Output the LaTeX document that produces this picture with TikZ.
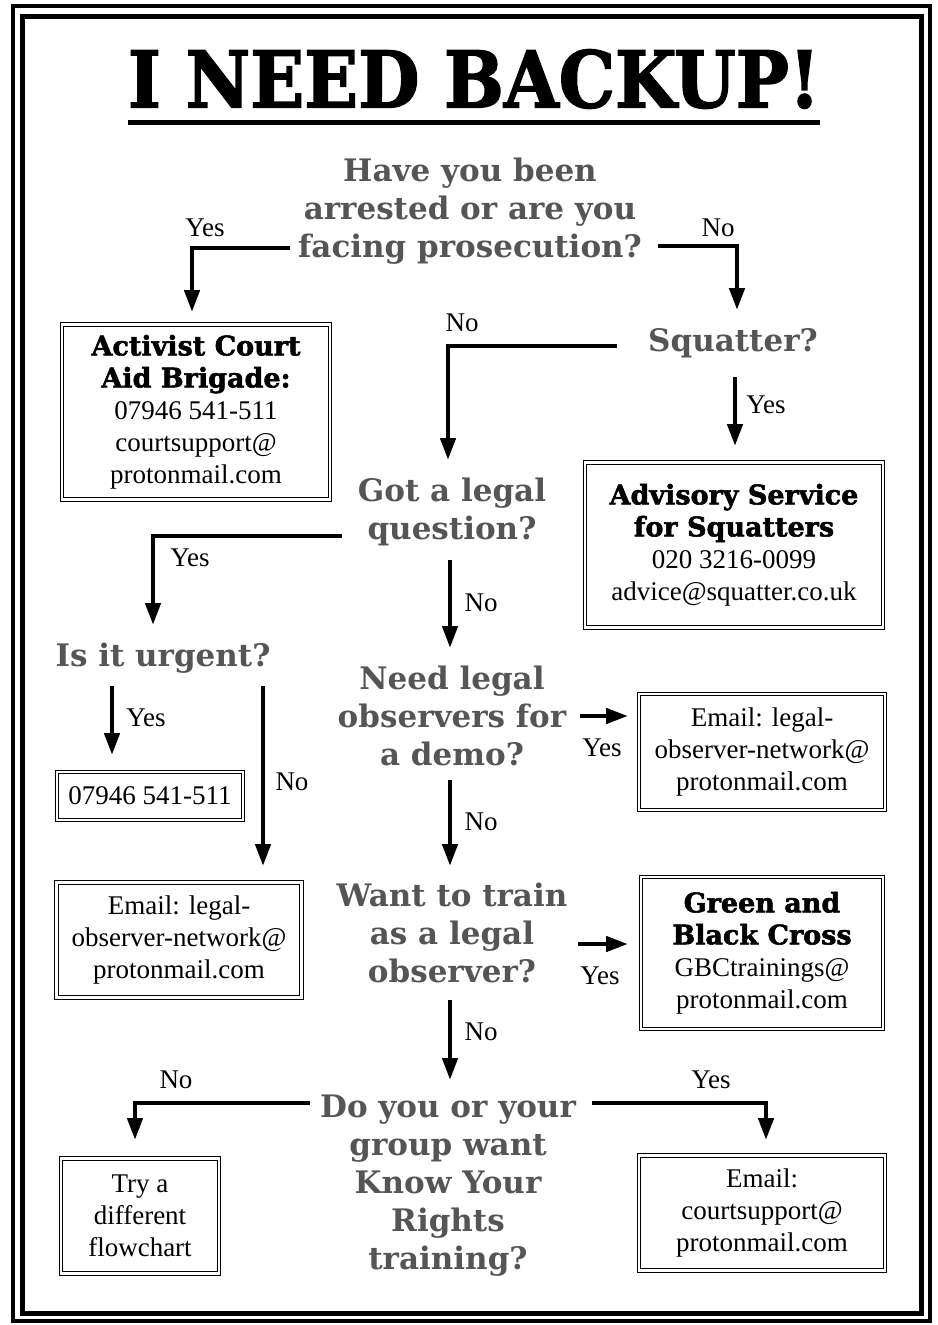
\documentclass[tikz,border=0pt]{standalone}
\usepackage{fontspec}
\usepackage{graphicx}
\setmainfont{Liberation Serif}
\newfontfamily\headfont{DejaVu Serif}
\newfontfamily\orgfont{DejaVu Serif}[BoldFeatures={FakeBold=2}]
\usetikzlibrary{arrows.meta,calc,positioning}
\definecolor{headgray}{RGB}{85,85,85}
\newcommand{\orgname}[1]{{\orgfont\bfseries\fontsize{27}{33}\selectfont #1}}

\begin{document}
\begin{tikzpicture}[
        x=1pt, y=-1pt,
        question/.style={align=center, text=headgray, inner sep=0pt, font=\headfont\bfseries\fontsize{31}{38}\selectfont},
        answer/.style={rectangle, draw, double, line width=1.2pt, double distance=2.4pt, align=center, inner sep=0pt, font=\fontsize{27}{32}\selectfont},
        lbl/.style={inner sep=0pt, font=\fontsize{27}{30}\selectfont},
        arrow/.style={line width=4.5pt, -{Triangle[width=15pt,length=22pt]}}
    ]
        \useasboundingbox (0,0) rectangle (937,1325);
        \fill[white] (0,0) rectangle (937,1325);

        % Frame and title
        \draw[line width=4pt] (13,6) rectangle (930,1321);
        \draw[line width=5pt] (22,16) rectangle (921,1313);
        \node[inner sep=0pt] (title) at (474,79) {\resizebox{692pt}{58pt}{\orgfont\bfseries I NEED BACKUP!}};
        \draw[line width=5pt] ($(title.south west)+(0,14)$) -- ($(title.south east)+(0,14)$);

        % Questions
        \node[question] (arrested) at (470,211) {Have you been\\arrested or are you\\facing prosecution?};
        \node[question] (squatter) at (733,343) {Squatter?};
        \node[question] (legalq) at (452,512) {Got a legal\\question?};
        \node[question] (urgent) at (163,658) {Is it urgent?};
        \node[question] (demo) at (452,716) {Need legal\\observers for\\a demo?};
        \node[question] (train) at (452,933) {Want to train\\as a legal\\observer?};
        \node[question] (kyr) at (448,1186) {Do you or your\\group want\\Know Your\\Rights\\training?};

        % Contacts
        \node[answer, minimum width=268pt, minimum height=175pt] (acab) at (196,412) {\orgname{Activist Court}\\\orgname{Aid Brigade:}\\07946 541-511\\courtsupport@\\protonmail.com};
        \node[answer, minimum width=298pt, minimum height=165pt] (ass) at (734,545) {\orgname{Advisory Service}\\\orgname{for Squatters}\\020 3216-0099\\advice@squatter.co.uk};
        \node[answer, minimum width=186pt, minimum height=48pt] (phone) at (150,796) {07946 541-511};
        \node[answer, minimum width=245pt, minimum height=115pt] (obsleft) at (179,940) {Email: legal-\\observer-network@\\protonmail.com};
        \node[answer, minimum width=246pt, minimum height=116pt] (obsright) at (762,752) {Email: legal-\\observer-network@\\protonmail.com};
        \node[answer, minimum width=242pt, minimum height=152pt] (gbc) at (762,953) {\orgname{Green and}\\\orgname{Black Cross}\\GBCtrainings@\\protonmail.com};
        \node[answer, minimum width=158pt, minimum height=115pt] (other) at (140,1216) {Try a\\different\\flowchart};
        \node[answer, minimum width=246pt, minimum height=115pt] (kyrmail) at (762,1213) {Email:\\courtsupport@\\protonmail.com};

        % Arrows
        \draw[arrow] ($(arrested)+(-180,37)$) -| ($(acab)+(-4,-100)$);
        \draw[arrow] ($(arrested)+(188,35)$) -| ($(squatter)+(4,-33)$);
        \draw[arrow] ($(squatter)+(-116,3)$) -| ($(legalq)+(-4,-52)$);
        \draw[arrow] ($(squatter)+(2,34)$) -- ($(ass)+(1,-99)$);
        \draw[arrow] ($(legalq)+(-110,24)$) -| ($(urgent)+(-10,-33)$);
        \draw[arrow] ($(legalq)+(-2,48)$) -- ($(demo)+(-2,-68)$);
        \draw[arrow] ($(urgent)+(-51,28)$) -- ($(phone)+(-38,-41)$);
        \draw[arrow] ($(urgent)+(100,28)$) -- ($(obsleft)+(84,-74)$);
        \draw[arrow] ($(demo)+(128,0)$) -- ($(obsright)+(-134,-36)$);
        \draw[arrow] ($(demo)+(-2,64)$) -- ($(train)+(-2,-67)$);
        \draw[arrow] ($(train)+(126,11)$) -- ($(gbc)+(-134,-9)$);
        \draw[arrow] ($(train)+(-2,67)$) -- ($(kyr)+(2,-106)$);
        \draw[arrow] ($(kyr)+(-138,-83)$) -| ($(other)+(-5,-76)$);
        \draw[arrow] ($(kyr)+(144,-83)$) -| ($(kyrmail)+(4,-73)$);

        % Answer labels
        \node[lbl] (yes1) at (205,228) {Yes};
        \node[lbl] (no1) at (718,228) {No};
        \node[lbl] (no2) at (462,323) {No};
        \node[lbl] (yes2) at (766,405) {Yes};
        \node[lbl] (yes3) at (190,558) {Yes};
        \node[lbl] (no3) at (481,603) {No};
        \node[lbl] (yes4) at (146,718) {Yes};
        \node[lbl] (no4) at (292,782) {No};
        \node[lbl] (yes5) at (602,748) {Yes};
        \node[lbl] (no5) at (481,822) {No};
        \node[lbl] (yes6) at (600,976) {Yes};
        \node[lbl] (no6) at (481,1032) {No};
        \node[lbl] (no7) at (176,1080) {No};
        \node[lbl] (yes7) at (711,1080) {Yes};
    \end{tikzpicture}
\end{document}
